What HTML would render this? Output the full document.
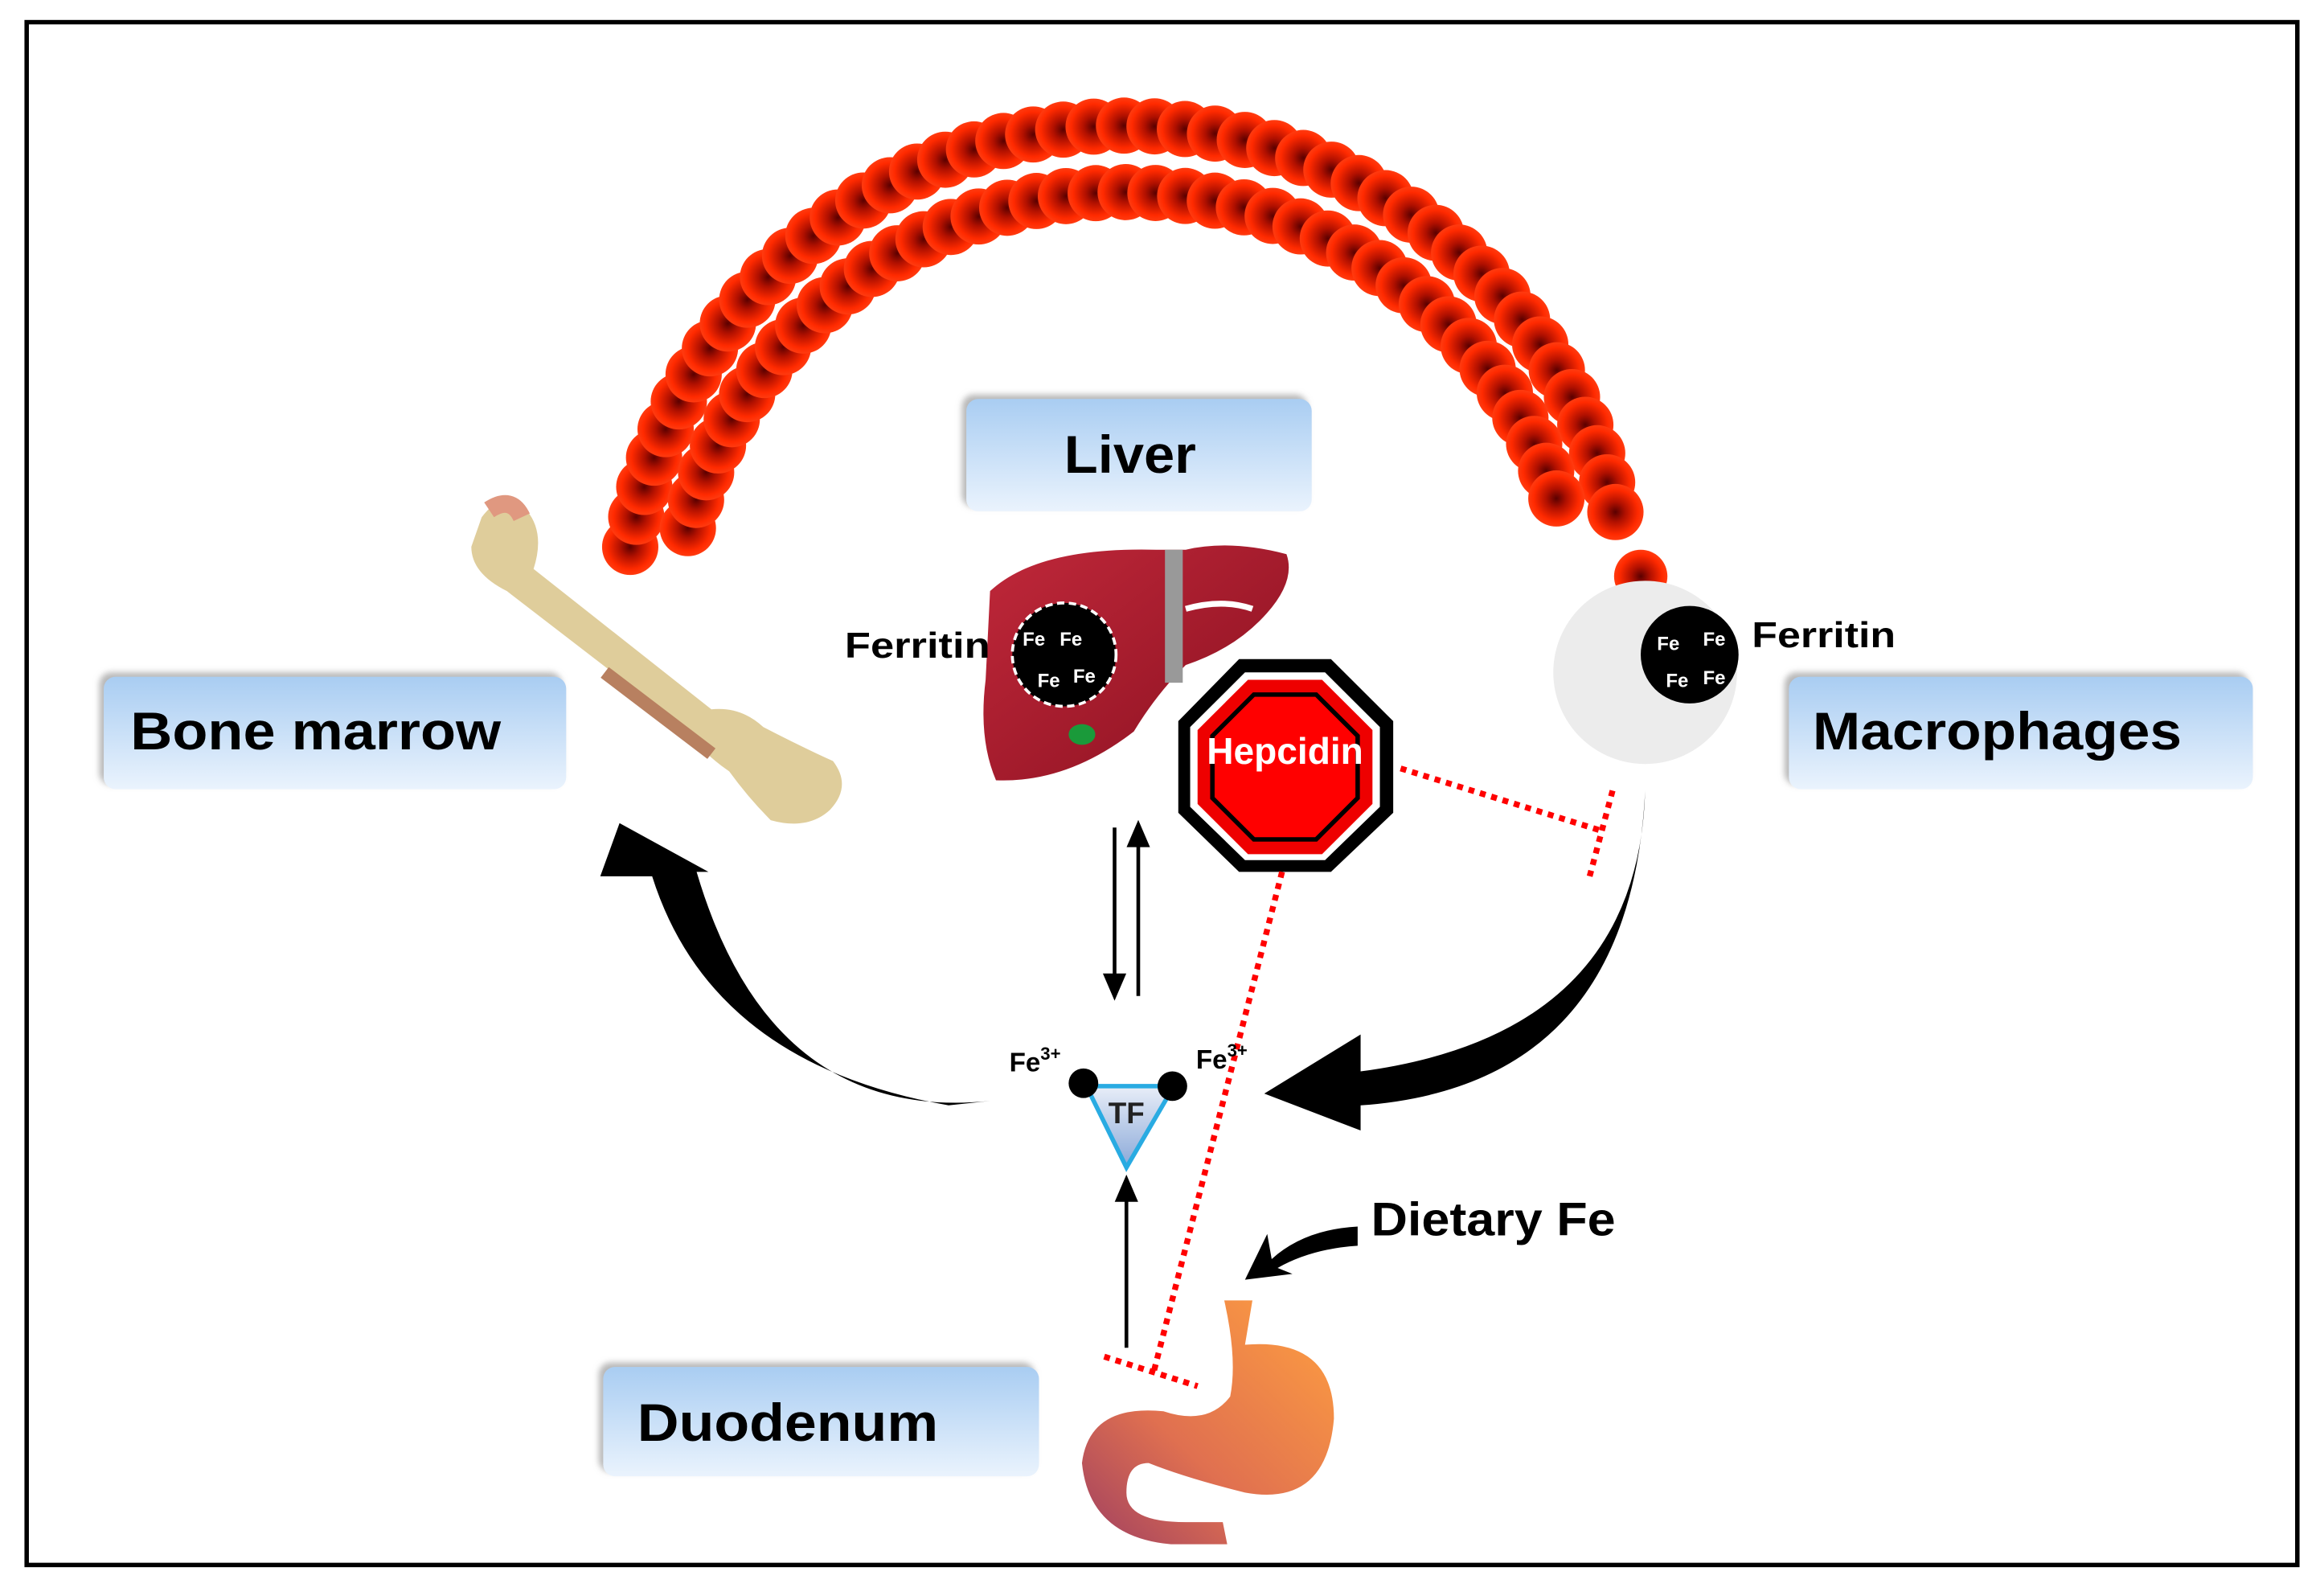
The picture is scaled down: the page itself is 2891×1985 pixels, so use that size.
<!DOCTYPE html>
<html><head><meta charset="utf-8">
<style>
html,body{margin:0;padding:0;background:#fff;}
svg{display:block;}
text{font-family:"Liberation Sans",sans-serif;font-weight:bold;}
</style></head>
<body>
<svg id="s" width="2891" height="1985" viewBox="0 0 1568 1080" preserveAspectRatio="none" xmlns="http://www.w3.org/2000/svg">
<defs>
<radialGradient id="rbc"><stop offset="0" stop-color="#5a0000"/><stop offset="0.35" stop-color="#b01000"/><stop offset="0.8" stop-color="#ff2a00"/><stop offset="1" stop-color="#ff3b10"/></radialGradient>
<linearGradient id="box" x1="0" y1="0" x2="0" y2="1"><stop offset="0" stop-color="#a9cdf2"/><stop offset="1" stop-color="#eaf3fd"/></linearGradient>
<linearGradient id="liv" x1="0" y1="0" x2="1" y2="1"><stop offset="0" stop-color="#c0283a"/><stop offset="1" stop-color="#8a1020"/></linearGradient>
<linearGradient id="sto" x1="1" y1="0" x2="0" y2="1"><stop offset="0" stop-color="#ffa040"/><stop offset="0.6" stop-color="#e07050"/><stop offset="1" stop-color="#a04060"/></linearGradient>
<linearGradient id="tf" x1="0" y1="0" x2="0" y2="1"><stop offset="0" stop-color="#e8eef8"/><stop offset="1" stop-color="#8aa8d8"/></linearGradient>
<filter id="sh"><feDropShadow dx="-3" dy="-3" stdDeviation="2" flood-color="#888" flood-opacity="0.6"/></filter>
</defs>
<rect x="18" y="15" width="1532" height="1044" fill="#fff" stroke="#000" stroke-width="3"/>
<g id="cells"></g>
<circle cx="1107" cy="390" r="18" fill="url(#rbc)"/>

<!-- boxes -->
<rect x="652" y="270" width="233" height="76" rx="8" fill="url(#box)" filter="url(#sh)"/>
<text x="718" y="320" font-size="36" textLength="89" lengthAdjust="spacingAndGlyphs">Liver</text>
<rect x="70" y="458" width="312" height="76" rx="8" fill="url(#box)" filter="url(#sh)"/>
<text x="88" y="507" font-size="36" textLength="250" lengthAdjust="spacingAndGlyphs">Bone marrow</text>
<rect x="1207" y="458" width="313" height="76" rx="8" fill="url(#box)" filter="url(#sh)"/>
<text x="1223" y="507" font-size="36" textLength="249" lengthAdjust="spacingAndGlyphs">Macrophages</text>
<rect x="407" y="925" width="294" height="74" rx="8" fill="url(#box)" filter="url(#sh)"/>
<text x="430" y="975" font-size="36" textLength="203" lengthAdjust="spacingAndGlyphs">Duodenum</text>

<!-- bone -->
<g fill="#dcc890" opacity="0.9">
<path d="M325,350 Q340,330 355,345 Q368,360 360,385 L480,480 Q500,478 515,492 Q540,505 562,515 Q575,532 560,548 Q545,562 520,555 Q505,540 492,522 Q472,508 465,495 L342,400 Q318,388 318,370 Z"/>
</g>
<path d="M408,455 L480,510" stroke="#b88060" stroke-width="9"/>
<path d="M330,345 Q345,335 352,350" stroke="#e09880" stroke-width="12" fill="none"/>

<!-- liver -->
<path d="M668,400 Q700,370 780,372 L800,372 Q830,365 868,375 Q875,395 850,420 Q830,440 800,450 Q780,470 765,495 Q720,530 672,528 Q660,500 665,460 Z" fill="url(#liv)"/>
<rect x="786" y="372" width="12" height="90" fill="#999"/>
<path d="M800,412 Q825,405 845,412" stroke="#fff" stroke-width="4" fill="none"/>
<ellipse cx="730" cy="497" rx="9" ry="7" fill="#1a9a3a"/>
<circle cx="718" cy="443" r="35" fill="#000" stroke="#fff" stroke-width="2" stroke-dasharray="5 3"/>
<g fill="#fff" font-size="13"><text x="690" y="437">Fe</text><text x="715" y="437">Fe</text><text x="700" y="465">Fe</text><text x="724" y="462">Fe</text></g>
<text x="570" y="445" font-size="24" textLength="98" lengthAdjust="spacingAndGlyphs">Ferritin</text>

<!-- hepcidin -->
<polygon points="836,446 898,446 940,488 940,550 898,590 836,590 795,550 795,488" fill="#000"/>
<polygon points="840,455 894,455 931,492 931,546 894,582 840,582 803,546 803,492" fill="#fff"/>
<polygon points="842,460 892,460 926,494 926,544 892,578 842,578 808,544 808,494" fill="#e00"/>
<polygon points="846,470 888,470 916,498 916,540 888,568 846,568 818,540 818,498" fill="#f00" stroke="#000" stroke-width="3"/>
<text x="867" y="517" font-size="25" fill="#fff" text-anchor="middle">Hepcidin</text>

<!-- macrophage -->
<circle cx="1110" cy="455" r="62" fill="#ececec"/>
<circle cx="1140" cy="443" r="33" fill="#000"/>
<g fill="#fff" font-size="13"><text x="1118" y="440">Fe</text><text x="1149" y="437">Fe</text><text x="1124" y="465">Fe</text><text x="1149" y="463">Fe</text></g>
<text x="1182" y="438" font-size="24" textLength="97" lengthAdjust="spacingAndGlyphs">Ferritin</text>

<!-- red dotted inhibitions -->
<g stroke="#f00" stroke-width="4" stroke-dasharray="4 4" fill="none">
<path d="M945,520 L1080,562"/>
<path d="M1088,535 L1072,595"/>
<path d="M865,590 L778,930"/>
<path d="M745,918 L808,938"/>
</g>

<!-- thin arrows -->
<g stroke="#000" stroke-width="2.5" fill="#000">
<line x1="752" y1="560" x2="752" y2="665"/><polygon points="746,660 758,660 752,674" />
<line x1="768" y1="674" x2="768" y2="568"/><polygon points="762,572 774,572 768,558"/>
<line x1="760" y1="912" x2="760" y2="808"/><polygon points="754,812 766,812 760,798"/>
</g>

<!-- TF -->
<polygon points="733,735 792,735 760,790" fill="url(#tf)" stroke="#29abe2" stroke-width="3"/>
<circle cx="731" cy="733" r="10" fill="#000"/><circle cx="791" cy="735" r="10" fill="#000"/>
<text x="760" y="760" font-size="20" text-anchor="middle" fill="#222">TF</text>
<text x="681" y="725" font-size="18">Fe<tspan font-size="12" dy="-8">3+</tspan></text>
<text x="807" y="723" font-size="18">Fe<tspan font-size="12" dy="-8">3+</tspan></text>

<!-- big arrows -->
<path d="M668,745 Q520,760 470,590 L478,590 L418,557 L405,593 L440,593 Q480,720 640,748 Z" fill="#000"/>
<path d="M1110,535 Q1105,700 918,725 L918,700 L853,740 L918,765 L918,748 Q1100,735 1110,535 Z" fill="#000"/>
<path d="M916,830 Q880,832 858,852 L855,835 L840,866 L872,862 L862,858 Q885,845 916,843 Z" fill="#000"/>
<text x="925" y="836" font-size="32" textLength="165" lengthAdjust="spacingAndGlyphs">Dietary Fe</text>

<!-- stomach -->
<path d="M826,880 L845,880 L840,910 Q900,905 900,960 Q895,1020 840,1010 Q800,1000 775,990 Q760,990 760,1010 Q760,1030 800,1030 L825,1030 L828,1045 L790,1045 Q735,1040 730,990 Q735,950 785,955 Q815,965 830,945 Q835,920 826,880 Z" fill="url(#sto)"/>
</svg>
<script>
var g=document.getElementById('cells'),h='';
function arc(cx,cy,rx,ry,a0,a1,n){for(var i=0;i<n;i++){var a=(a0+(a1-a0)*i/(n-1))*Math.PI/180;h+='<circle cx="'+(cx+rx*Math.cos(a)).toFixed(1)+'" cy="'+(cy-ry*Math.sin(a)).toFixed(1)+'" r="19" fill="url(#rbc)"/>';}}
arc(760,430,340,345,170,14,46);
arc(760,430,305,300,166,18,40);
g.innerHTML=h;
</script>
</body></html>
